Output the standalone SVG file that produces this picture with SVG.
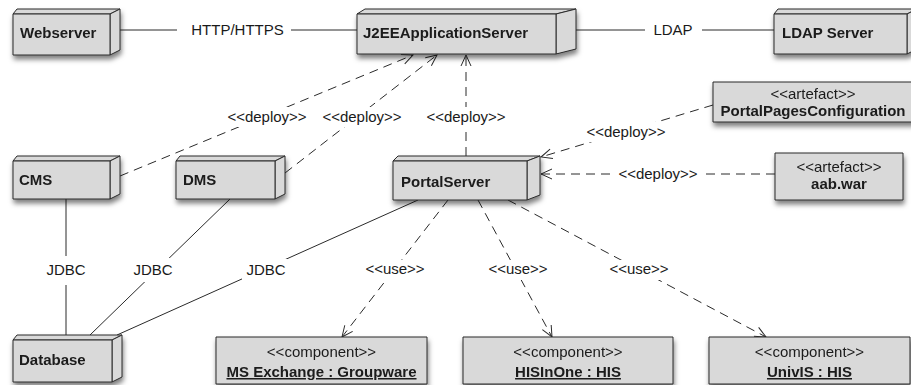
<svg xmlns="http://www.w3.org/2000/svg" width="911" height="385" viewBox="0 0 911 385">
  <style>
    text { font-family: "Liberation Sans", Arial, Helvetica, sans-serif; font-size: 15px; fill: #1a1a1a; }
    .name { font-weight: bold; }
    .mid { text-anchor: middle; }
    .ul { text-decoration: underline; }
    .face { fill: #d9d9d9; stroke: #2a2a2a; stroke-width: 1; stroke-linejoin: round; }
    .line { fill: none; stroke: #2a2a2a; stroke-width: 1; }
    .dash { fill: none; stroke: #2a2a2a; stroke-width: 1; stroke-dasharray: 9 6; marker-end: url(#open); }
    .lbl { fill: #ffffff; }
  </style>
  <defs>
    <filter id="shadow" x="-20%" y="-30%" width="140%" height="180%">
      <feDropShadow dx="1" dy="4" stdDeviation="2.6" flood-color="#000" flood-opacity="0.5"/>
    </filter>
    <marker id="open" viewBox="-13 -7 15 14" refX="0" refY="0" markerWidth="15" markerHeight="14" markerUnits="userSpaceOnUse" orient="auto">
      <path d="M-11,-5 L0,0 L-11,5" fill="none" stroke="#2a2a2a" stroke-width="1" stroke-dasharray="none"/>
    </marker>
  </defs>

  <rect width="911" height="385" fill="#ffffff"/>

  <!-- connectors -->
  <g id="connectors">
    <!-- communication paths -->
    <line class="line" x1="120" y1="30" x2="357" y2="30"/>
    <line class="line" x1="576" y1="30" x2="774" y2="30"/>
    <line class="line" x1="66" y1="199" x2="66" y2="336"/>
    <line class="line" x1="230" y1="199" x2="90" y2="335"/>
    <line class="line" x1="418" y1="200" x2="117" y2="335"/>
    <!-- deploy dependencies -->
    <line class="dash" x1="120" y1="176" x2="413" y2="55"/>
    <line class="dash" x1="285" y1="173" x2="437" y2="55"/>
    <line class="dash" x1="466" y1="156" x2="466" y2="55"/>
    <line class="dash" x1="713" y1="105" x2="541" y2="157"/>
    <line class="dash" x1="775" y1="174" x2="541" y2="174"/>
    <!-- use dependencies -->
    <line class="dash" x1="448" y1="200" x2="342" y2="337"/>
    <line class="dash" x1="478" y1="200" x2="552" y2="337"/>
    <line class="dash" x1="508" y1="200" x2="766" y2="337"/>

    <!-- label backgrounds -->
    <rect class="lbl" x="177" y="21" width="114" height="18"/>
    <rect class="lbl" x="645" y="21" width="57" height="18"/>
    <rect class="lbl" x="224" y="107" width="86" height="20"/>
    <rect class="lbl" x="319" y="107" width="86" height="20"/>
    <rect class="lbl" x="423" y="107" width="86" height="20"/>
    <rect class="lbl" x="583" y="122" width="86" height="20"/>
    <rect class="lbl" x="615" y="164" width="86" height="20"/>
    <rect class="lbl" x="44" y="256" width="44" height="29"/>
    <rect class="lbl" x="130" y="258" width="46" height="24"/>
    <rect class="lbl" x="242" y="259" width="48" height="22"/>
    <rect class="lbl" x="363" y="260" width="64" height="20"/>
    <rect class="lbl" x="486" y="260" width="64" height="20"/>
    <rect class="lbl" x="607" y="260" width="64" height="20"/>

    <!-- labels -->
    <text class="mid" x="237.5" y="35">HTTP/HTTPS</text>
    <text class="mid" x="673" y="35">LDAP</text>
    <text class="mid" x="267" y="122">&lt;&lt;deploy&gt;&gt;</text>
    <text class="mid" x="362" y="122">&lt;&lt;deploy&gt;&gt;</text>
    <text class="mid" x="466" y="122">&lt;&lt;deploy&gt;&gt;</text>
    <text class="mid" x="626" y="137">&lt;&lt;deploy&gt;&gt;</text>
    <text class="mid" x="658" y="179">&lt;&lt;deploy&gt;&gt;</text>
    <text class="mid" x="66" y="275">JDBC</text>
    <text class="mid" x="153" y="275">JDBC</text>
    <text class="mid" x="266" y="275">JDBC</text>
    <text class="mid" x="395" y="274">&lt;&lt;use&gt;&gt;</text>
    <text class="mid" x="518" y="274">&lt;&lt;use&gt;&gt;</text>
    <text class="mid" x="639" y="274">&lt;&lt;use&gt;&gt;</text>
  </g>

  <!-- deployment nodes -->
  <g id="node-webserver" filter="url(#shadow)">
    <polygon class="face" points="13,14 17,9 120,9 110,14"/>
    <polygon class="face" points="110,14 120,9 120,50 110,55"/>
    <rect class="face" x="13" y="14" width="97" height="41"/>
    <text class="name" x="20" y="38">Webserver</text>
  </g>

  <g id="node-j2ee" filter="url(#shadow)">
    <polygon class="face" points="357,14 365,9 576,9 556,14"/>
    <polygon class="face" points="556,14 576,9 576,49 556,54"/>
    <rect class="face" x="357" y="14" width="199" height="40"/>
    <text class="name" x="363" y="38">J2EEApplicationServer</text>
  </g>

  <g id="node-ldap" filter="url(#shadow)">
    <polygon class="face" points="774,14 778,9 917,9 907,14"/>
    <polygon class="face" points="907,14 917,9 917,49 907,54"/>
    <rect class="face" x="774" y="14" width="133" height="40"/>
    <text class="name" x="782" y="38">LDAP Server</text>
  </g>

  <g id="node-cms" filter="url(#shadow)">
    <polygon class="face" points="13,161 17,156 120,156 110,161"/>
    <polygon class="face" points="110,161 120,156 120,194 110,199"/>
    <rect class="face" x="13" y="161" width="97" height="38"/>
    <text class="name" x="19" y="185">CMS</text>
  </g>

  <g id="node-dms" filter="url(#shadow)">
    <polygon class="face" points="176,161 180,156 285,156 275,161"/>
    <polygon class="face" points="275,161 285,156 285,194 275,199"/>
    <rect class="face" x="176" y="161" width="99" height="38"/>
    <text class="name" x="183" y="185">DMS</text>
  </g>

  <g id="node-portal" filter="url(#shadow)">
    <polygon class="face" points="393,161 398,156 540,156 527,161"/>
    <polygon class="face" points="527,161 540,156 540,195 527,200"/>
    <rect class="face" x="393" y="161" width="134" height="39"/>
    <text class="name" x="401" y="187">PortalServer</text>
  </g>

  <g id="node-database" filter="url(#shadow)">
    <polygon class="face" points="13,340 17,335 122,335 112,340"/>
    <polygon class="face" points="112,340 122,335 122,377 112,382"/>
    <rect class="face" x="13" y="340" width="99" height="42"/>
    <text class="name" x="19" y="365">Database</text>
  </g>

  <!-- artefacts -->
  <g id="node-portalpages" filter="url(#shadow)">
    <rect class="face" x="713" y="82" width="210" height="40"/>
    <text class="mid" x="813" y="99">&lt;&lt;artefact&gt;&gt;</text>
    <text class="name mid" x="813" y="116">PortalPagesConfiguration</text>
  </g>

  <g id="node-aabwar" filter="url(#shadow)">
    <rect class="face" x="775" y="153" width="128" height="47"/>
    <text class="mid" x="839" y="172">&lt;&lt;artefact&gt;&gt;</text>
    <text class="name mid" x="839" y="189">aab.war</text>
  </g>

  <!-- components -->
  <g id="node-msexchange" filter="url(#shadow)">
    <rect class="face" x="216" y="337" width="211" height="47"/>
    <text class="mid" x="321.5" y="357">&lt;&lt;component&gt;&gt;</text>
    <text class="name mid ul" x="321.5" y="377">MS Exchange : Groupware</text>
  </g>

  <g id="node-hisinone" filter="url(#shadow)">
    <rect class="face" x="463" y="337" width="210" height="47"/>
    <text class="mid" x="568" y="357">&lt;&lt;component&gt;&gt;</text>
    <text class="name mid ul" x="568" y="377">HISInOne : HIS</text>
  </g>

  <g id="node-univis" filter="url(#shadow)">
    <rect class="face" x="709" y="337" width="201" height="47"/>
    <text class="mid" x="809.5" y="357">&lt;&lt;component&gt;&gt;</text>
    <text class="name mid ul" x="809.5" y="377">UnivIS : HIS</text>
  </g>
</svg>
